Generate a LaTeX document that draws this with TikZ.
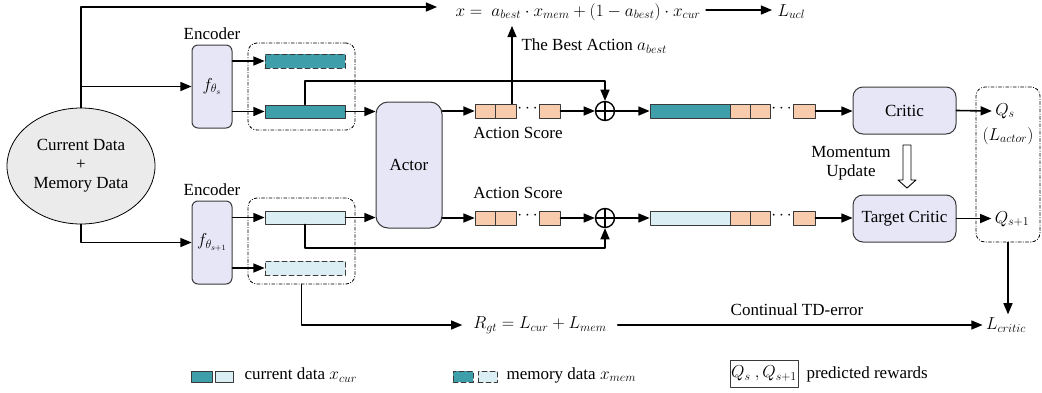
\documentclass[tikz,border=0pt]{standalone}
\usepackage{fontspec}
\setmainfont{Liberation Serif}
\usepackage{tikz}
\usetikzlibrary{arrows}
\usetikzlibrary{shapes.geometric}
\definecolor{tealbar}{HTML}{3E9FAA}
\definecolor{lightbar}{HTML}{DAEEF3}
\definecolor{peach}{HTML}{F8CBAD}
\definecolor{lav}{HTML}{E6E6F7}
\definecolor{ellgray}{HTML}{EBEBEB}
\definecolor{edge}{HTML}{3A3A3A}

\tikzset{
  box/.style={draw=edge, fill=lav, line width=1pt, inner sep=0pt},
  bar/.style={draw=edge, line width=1pt, minimum width=80pt, minimum height=13pt, inner sep=0pt},
  dbar/.style={bar, dash pattern=on 5pt off 3pt},
  cell/.style={draw=edge, fill=peach, line width=0.9pt, minimum width=20pt, minimum height=14pt, inner sep=0pt},
  grp/.style={draw, dash dot, rounded corners=9pt, line width=0.8pt, inner sep=0pt},
  conn/.style={->, line width=1.6pt},
  oplus/.style={draw, circle, line width=1.4pt, minimum size=19pt, inner sep=0pt,
    path picture={\draw[line width=1.4pt] (path picture bounding box.north) -- (path picture bounding box.south)
      (path picture bounding box.west) -- (path picture bounding box.east);}},
}

\begin{document}
\begin{tikzpicture}[line cap=round,line join=round,>=triangle 45,x=1pt,y=-1pt,
  every node/.style={font=\fontsize{17}{19}\selectfont}]
\useasboundingbox (0,0) rectangle (1042,392);

% input and encoders
\node [ellipse, draw, fill=ellgray, line width=0.8pt, minimum width=148pt, minimum height=116pt, align=center, inner sep=0pt] (data) at (81,166) {Current Data\\+\\Memory Data};
\node [box, rounded corners=6pt, minimum width=40pt, minimum height=83pt] (encA) at (212,86.5) {$f_{\theta_s}$};
\node [box, rounded corners=6pt, minimum width=40pt, minimum height=83pt] (encB) at (212,242.5) {$f_{\theta_{s+1}}$};
\node [above=1pt] at (encA.north) {Encoder};
\node [above=1pt] at (encB.north) {Encoder};

% features
\node [grp, minimum width=107pt, minimum height=87pt] (grpA) at (301.5,86.5) {};
\node [grp, minimum width=107pt, minimum height=86pt] (grpB) at (301.5,241) {};
\node [dbar, fill=tealbar, minimum height=14pt] (barAm) at (305,61) {};
\node [bar, fill=tealbar] (barAc) at (305,111.5) {};
\node [bar, fill=lightbar] (barBc) at (305,217.5) {};
\node [dbar, fill=lightbar, minimum height=14pt] (barBm) at (305,268) {};

% actor and action scores
\node [box, rounded corners=12pt, minimum width=66pt, minimum height=126pt] (actor) at (409,165) {Actor};
\node [cell] (sA1) at (485,111) {};
\node [cell, minimum width=21pt] (sA2) at (505.5,111) {};
\node [inner sep=0pt] (dA) at (527.5,109) {$\cdots$};
\node [cell, minimum width=21pt] (sA3) at (549.5,111) {};
\node [cell] (sB1) at (485,218) {};
\node [cell, minimum width=21pt] (sB2) at (505.5,218) {};
\node [inner sep=0pt] (dB) at (527.5,216) {$\cdots$};
\node [cell, minimum width=21pt] (sB3) at (549.5,218) {};
\node (lblA) at (518,133) {Action Score};
\node (lblB) at (518,193) {Action Score};
\node [oplus] (plA) at (605,111) {};
\node [oplus] (plB) at (605,218) {};

% concatenated states
\node [bar, fill=tealbar, minimum height=14pt] (cA0) at (690,111) {};
\node [cell] (cA1) at (740,111) {};
\node [cell] (cA2) at (760,111) {};
\node [inner sep=0pt] at (781.5,109) {$\cdots$};
\node [cell, minimum width=22pt] (cA3) at (804,111) {};
\node [bar, fill=lightbar, minimum height=14pt] (cB0) at (690,218) {};
\node [cell] (cB1) at (740,218) {};
\node [cell] (cB2) at (760,218) {};
\node [inner sep=0pt] at (781.5,216) {$\cdots$};
\node [cell, minimum width=22pt] (cB3) at (804,218) {};

% critics
\node [box, rounded corners=10pt, minimum width=103pt, minimum height=47pt] (critic) at (904.5,110.5) {Critic};
\node [box, rounded corners=10pt, minimum width=103pt, minimum height=47pt] (target) at (904.5,218.5) {Target Critic};
\draw [line width=0.9pt, fill=white] (903,145) -- (911,145) -- (911,180) -- (916,180) -- (907,188) -- (898,180) -- (903,180) -- cycle;
\node [align=center] (mom) at (851,163) {Momentum\\Update};
\node [grp, minimum width=64pt, minimum height=155pt] (grpR) at (1008,164.5) {};
\node (qs) at (1005,111) {$Q_s$};
\node (lact) at (1008,136) {$(L_{actor})$};
\node (qs1) at (1012,219) {$Q_{s+1}$};
\node (lcrit) at (1006,325) {$L_{critic}$};

% losses
\node [anchor=base west] (mix) at (452,16) {$x =\ a_{best}\cdot x_{mem} + (1-a_{best})\cdot x_{cur}$};
\node [anchor=base west] (lucl) at (774,16) {$L_{ucl}$};
\node [anchor=west] (best) at (518,46) {The Best Action $a_{best}$};
\node [inner xsep=11pt] (rgt) at (540,325) {$R_{gt} = L_{cur} + L_{mem}$};
\node (td) at (797,310) {Continual TD-error};
\coordinate (top) at (437,7);
\coordinate (bestTop) at (512,26);
\coordinate (jA) at (0,81);
\coordinate (jB) at (0,248);

% connectors
\draw [conn] (data.north) |- (top);
\draw [conn] (data.north |- encA.west) -- (encA.west);
\draw [conn] (data.south) |- (encB.west);
\draw [conn] (encA.east |- barAm) -- (barAm.west);
\draw [conn] (encA.east |- barAc) -- (barAc.west);
\draw [conn] (encB.east |- barBc) -- (barBc.west);
\draw [conn] (encB.east |- barBm) -- (barBm.west);
\draw [conn] (barAc.east) -- (actor.west |- barAc);
\draw [conn] (barBc.east) -- (actor.west |- barBc);
\draw [conn] (barAc.north) -- (barAc.north |- jA) -| (plA.north);
\draw [conn] (barBc.south) -- (barBc.south |- jB) -| (plB.south);
\draw [conn] (actor.east |- sA1) -- (sA1.west);
\draw [conn] (actor.east |- sB1) -- (sB1.west);
\draw [conn] (sA3.east) -- (plA.west);
\draw [conn] (sB3.east) -- (plB.west);
\draw [conn] (plA.east) -- (cA0.west);
\draw [conn] (plB.east) -- (cB0.west);
\draw [conn] (cA3.east) -- (critic.west |- cA3);
\draw [conn] (cB3.east) -- (target.west |- cB3);
\draw [conn] (bestTop |- sA2.north) -- (bestTop);
\draw [conn] ([xshift=2pt]mix.east |- 0,10) -- ([xshift=-2pt]lucl.west |- 0,10);
\draw [conn] (critic.east) -- (qs.west);
\draw [conn] (target.east) -- (qs1.west |- target);
\draw [conn] (grpR.south) -- (grpR.south |- lcrit.north);
\draw [conn] (grpB.south) |- (rgt.west);
\draw [conn] (rgt.east) -- (lcrit.west);

% legend
\node [bar, fill=tealbar, minimum width=21pt, minimum height=11pt] (kA) at (201.5,376.5) {};
\node [bar, fill=lightbar, minimum width=18pt, minimum height=11pt] (kB) at (224,376.5) {};
\node [anchor=west] at (241,375) {current data $x_{cur}$};
\node [dbar, fill=tealbar, minimum width=20pt, minimum height=11pt] (kC) at (463,376.5) {};
\node [dbar, fill=lightbar, minimum width=19pt, minimum height=11pt] (kD) at (487.5,376.5) {};
\node [anchor=west] at (503,375) {memory data $x_{mem}$};
\node [draw=edge, line width=0.9pt, minimum width=68pt, minimum height=27pt, inner sep=1pt] (kE) at (764,373.5) {$Q_s\ ,Q_{s+1}$};
\node [anchor=west] at (803,374) {predicted rewards};
\end{tikzpicture}
\end{document}
